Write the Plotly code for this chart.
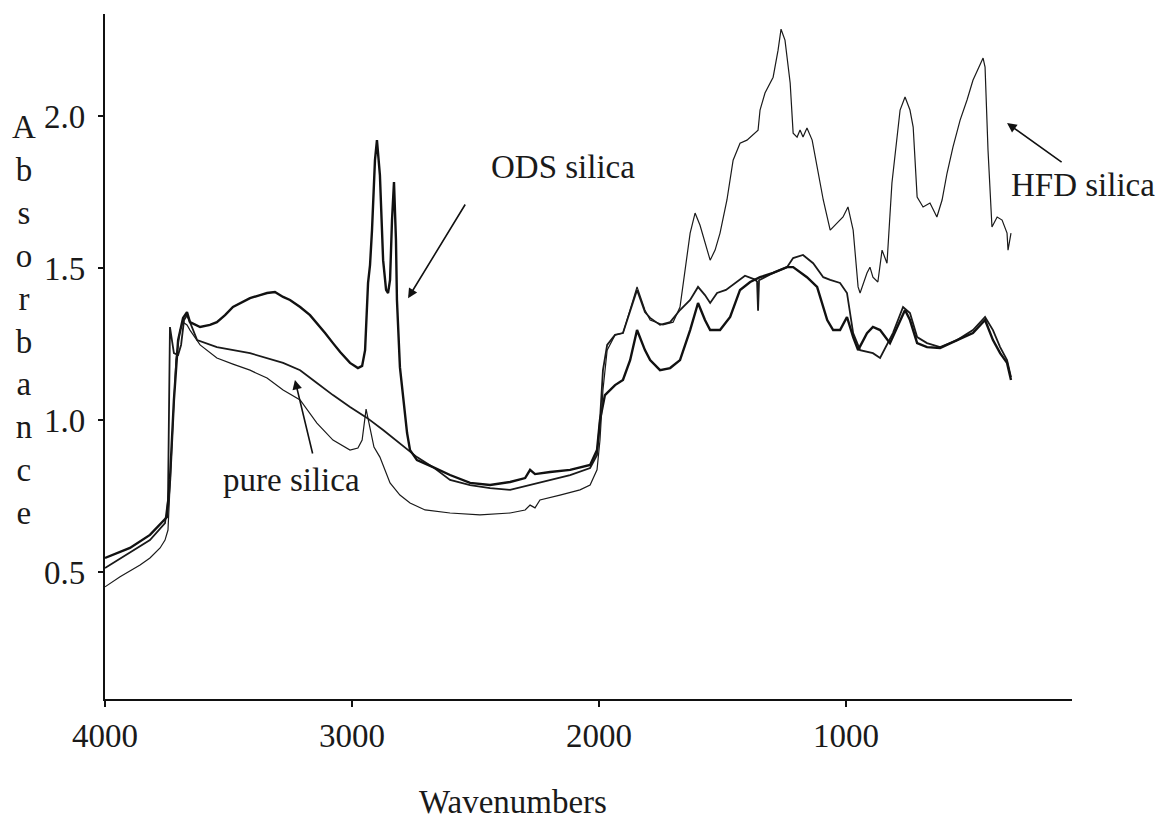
import plotly.graph_objects as go

# FTIR absorbance spectra of three silica samples (wavenumber in cm-1)
hfd_wn = [4000, 3939, 3858, 3818, 3777, 3757, 3745, 3737, 3725, 3713, 3696, 3684, 3668, 3656, 3615,
          3547, 3482, 3413, 3344, 3279, 3210, 3142, 3077, 3008, 2976, 2959, 2943, 2927, 2911, 2887,
          2846, 2806, 2765, 2704, 2603, 2482, 2360, 2299, 2279, 2259, 2239, 2158, 2077, 2036, 2008,
          1996, 1984, 1967, 1935, 1903, 1874, 1846, 1814, 1793, 1741, 1700, 1672, 1652, 1631, 1611,
          1591, 1550, 1530, 1510, 1482, 1457, 1429, 1401, 1356, 1348, 1328, 1295, 1275, 1263, 1247,
          1226, 1214, 1198, 1186, 1174, 1158, 1137, 1117, 1092, 1064, 1036, 1012, 992, 971, 951,
          943, 915, 903, 891, 871, 854, 834, 814, 793, 781, 761, 741, 728, 712, 688,
          660, 632, 611, 591, 567, 538, 510, 486, 457, 445, 437, 425, 409, 388, 368,
          348, 344, 332]
hfd_abs = [0.451, 0.484, 0.523, 0.546, 0.579, 0.605, 0.638, 0.770, 1.000, 1.197, 1.296, 1.322, 1.313, 1.296, 1.247,
           1.204, 1.184, 1.164, 1.138, 1.099, 1.066, 0.990, 0.934, 0.901, 0.908, 0.934, 1.036, 0.967, 0.911, 0.878,
           0.793, 0.753, 0.727, 0.704, 0.694, 0.688, 0.694, 0.704, 0.720, 0.711, 0.737, 0.753, 0.770, 0.786, 0.836,
           0.934, 1.099, 1.230, 1.280, 1.286, 1.362, 1.438, 1.362, 1.329, 1.313, 1.322, 1.372, 1.493, 1.615, 1.681,
           1.641, 1.526, 1.559, 1.615, 1.724, 1.855, 1.911, 1.921, 1.954, 2.020, 2.076, 2.128, 2.217, 2.286, 2.250,
           2.109, 1.944, 1.931, 1.954, 1.931, 1.961, 1.921, 1.832, 1.724, 1.625, 1.648, 1.668, 1.701, 1.625, 1.438,
           1.418, 1.484, 1.503, 1.470, 1.454, 1.559, 1.516, 1.780, 1.944, 2.020, 2.063, 2.020, 1.964, 1.734, 1.701,
           1.714, 1.668, 1.724, 1.812, 1.898, 1.987, 2.053, 2.118, 2.174, 2.191, 2.161, 1.888, 1.635, 1.668, 1.658,
           1.615, 1.559, 1.615]

ods_wn = [4000, 3899, 3818, 3749, 3737, 3721, 3704, 3684, 3668, 3656, 3615, 3575, 3547, 3514, 3482,
          3453, 3413, 3372, 3344, 3312, 3279, 3251, 3210, 3170, 3142, 3109, 3077, 3048, 3008, 2976,
          2959, 2947, 2935, 2927, 2919, 2907, 2899, 2887, 2874, 2862, 2854, 2846, 2838, 2830, 2822,
          2818, 2806, 2793, 2777, 2765, 2737, 2672, 2603, 2522, 2441, 2360, 2299, 2279, 2259, 2198,
          2117, 2036, 2008, 1996, 1976, 1935, 1903, 1874, 1846, 1814, 1793, 1753, 1712, 1672, 1631,
          1599, 1571, 1550, 1510, 1469, 1429, 1388, 1348, 1295, 1239, 1214, 1186, 1158, 1117, 1076,
          1052, 1024, 996, 971, 951, 915, 891, 862, 822, 781, 761, 741, 712, 672, 619,
          550, 486, 437, 405, 376, 348, 332]
ods_abs = [0.546, 0.579, 0.622, 0.681, 0.803, 1.066, 1.263, 1.336, 1.355, 1.322, 1.306, 1.313, 1.322, 1.345, 1.372,
           1.385, 1.401, 1.411, 1.418, 1.421, 1.405, 1.395, 1.372, 1.345, 1.319, 1.286, 1.253, 1.224, 1.188, 1.171,
           1.178, 1.230, 1.451, 1.510, 1.625, 1.855, 1.921, 1.806, 1.526, 1.428, 1.418, 1.461, 1.658, 1.783, 1.592,
           1.395, 1.174, 1.066, 0.957, 0.901, 0.868, 0.845, 0.819, 0.793, 0.786, 0.796, 0.809, 0.836, 0.822, 0.829,
           0.836, 0.852, 0.901, 1.000, 1.082, 1.115, 1.132, 1.197, 1.296, 1.230, 1.197, 1.164, 1.171, 1.197, 1.296,
           1.385, 1.329, 1.296, 1.296, 1.339, 1.428, 1.454, 1.470, 1.484, 1.503, 1.503, 1.487, 1.470, 1.438, 1.329,
           1.296, 1.296, 1.339, 1.273, 1.230, 1.286, 1.306, 1.296, 1.253, 1.329, 1.362, 1.329, 1.253, 1.240, 1.237,
           1.263, 1.286, 1.329, 1.263, 1.220, 1.188, 1.132]

pure_wn = [4000, 3899, 3818, 3757, 3745, 3737, 3729, 3721, 3704, 3692, 3680, 3668, 3656, 3627, 3547,
           3413, 3279, 3210, 3142, 3077, 3008, 2939, 2874, 2806, 2737, 2672, 2603, 2522, 2441, 2360,
           2279, 2198, 2117, 2036, 2008, 1996, 1984, 1967, 1935, 1903, 1874, 1846, 1814, 1793, 1753,
           1712, 1672, 1631, 1599, 1571, 1550, 1522, 1486, 1429, 1409, 1368, 1360, 1356, 1352, 1295,
           1239, 1214, 1174, 1133, 1092, 1064, 1024, 996, 971, 943, 891, 862, 810, 769, 741,
           712, 672, 619, 550, 486, 437, 405, 376, 348, 332]
pure_abs = [0.513, 0.563, 0.605, 0.661, 0.737, 1.306, 1.263, 1.220, 1.214, 1.247, 1.329, 1.345, 1.322, 1.263, 1.240,
            1.220, 1.188, 1.164, 1.122, 1.082, 1.043, 1.007, 0.967, 0.924, 0.878, 0.845, 0.803, 0.786, 0.776, 0.770,
            0.786, 0.803, 0.819, 0.842, 0.885, 1.000, 1.164, 1.247, 1.280, 1.286, 1.362, 1.428, 1.355, 1.336, 1.313,
            1.322, 1.362, 1.395, 1.438, 1.411, 1.385, 1.418, 1.428, 1.461, 1.475, 1.462, 1.455, 1.360, 1.460, 1.484,
            1.503, 1.533, 1.543, 1.516, 1.470, 1.461, 1.451, 1.418, 1.286, 1.230, 1.220, 1.204, 1.286, 1.372, 1.352,
            1.273, 1.253, 1.240, 1.263, 1.296, 1.339, 1.296, 1.240, 1.197, 1.141]

x_ticks = [4000, 3000, 2000, 1000]
y_ticks = [0.5, 1.0, 1.5, 2.0]
x_range = [4000, 85]
y_range = [0.082, 2.336]

FONT = "Liberation Serif, Times New Roman, serif"
INK = "#111111"

fig = go.Figure()
fig.add_trace(go.Scatter(x=pure_wn, y=pure_abs, mode="lines", name="pure silica",
                         line=dict(color="#1a1a1a", width=1.8)))
fig.add_trace(go.Scatter(x=ods_wn, y=ods_abs, mode="lines", name="ODS silica",
                         line=dict(color=INK, width=2.4)))
fig.add_trace(go.Scatter(x=hfd_wn, y=hfd_abs, mode="lines", name="HFD silica",
                         line=dict(color="#1a1a1a", width=1.2)))

arrow_style = dict(text="", showarrow=True, arrowhead=2, arrowsize=1.2, arrowwidth=1.6,
                   arrowcolor=INK, xref="x", yref="y", axref="x", ayref="y")
label_style = dict(showarrow=False, xanchor="center", yanchor="middle", font=dict(size=33))

annotations = [
    # curve labels
    dict(x=2146, y=1.832, xref="x", yref="y", text="ODS silica", **label_style),
    dict(x=3243, y=0.803, xref="x", yref="y", text="pure silica", **label_style),
    dict(x=1.011, y=0.750, xref="paper", yref="paper", text="HFD silica", **label_style),
    # pointer arrows
    dict(x=2773, y=1.401, ax=2538, ay=1.714, **arrow_style),
    dict(x=3231, y=1.132, ax=3158, ay=0.885, **arrow_style),
    dict(x=348, y=1.977, ax=121, ay=1.845, **arrow_style),
    # axis titles
    dict(x=-0.0838, y=0.553, xref="paper", yref="paper",
         text="<br>".join("Absorbance"), **label_style),
    dict(x=0.422, y=-0.1796, xref="paper", yref="paper", text="Wavenumbers",
         showarrow=False, xanchor="center", yanchor="bottom", font=dict(size=33)),
]

fig.update_layout(
    width=1164, height=823,
    margin=dict(l=105, r=92, t=14, b=124),
    paper_bgcolor="white", plot_bgcolor="white",
    showlegend=False,
    font=dict(family=FONT, color="#1a1a1a", size=33),
    annotations=annotations,
)
fig.update_xaxes(range=x_range, tickvals=x_ticks, ticktext=[str(v) for v in x_ticks],
                 showgrid=False, zeroline=False, showline=True, linecolor=INK, linewidth=2.2,
                 ticks="outside", ticklen=6, tickwidth=1.5, tickcolor=INK,
                 tickfont=dict(size=33))
fig.update_yaxes(range=y_range, tickvals=y_ticks, ticktext=["%.1f" % v for v in y_ticks],
                 showgrid=False, zeroline=False, showline=True, linecolor=INK, linewidth=2.2,
                 ticks="outside", ticklen=5, tickwidth=1.5, tickcolor=INK,
                 ticklabelstandoff=6, tickfont=dict(size=33))

fig.write_html("out.html")
